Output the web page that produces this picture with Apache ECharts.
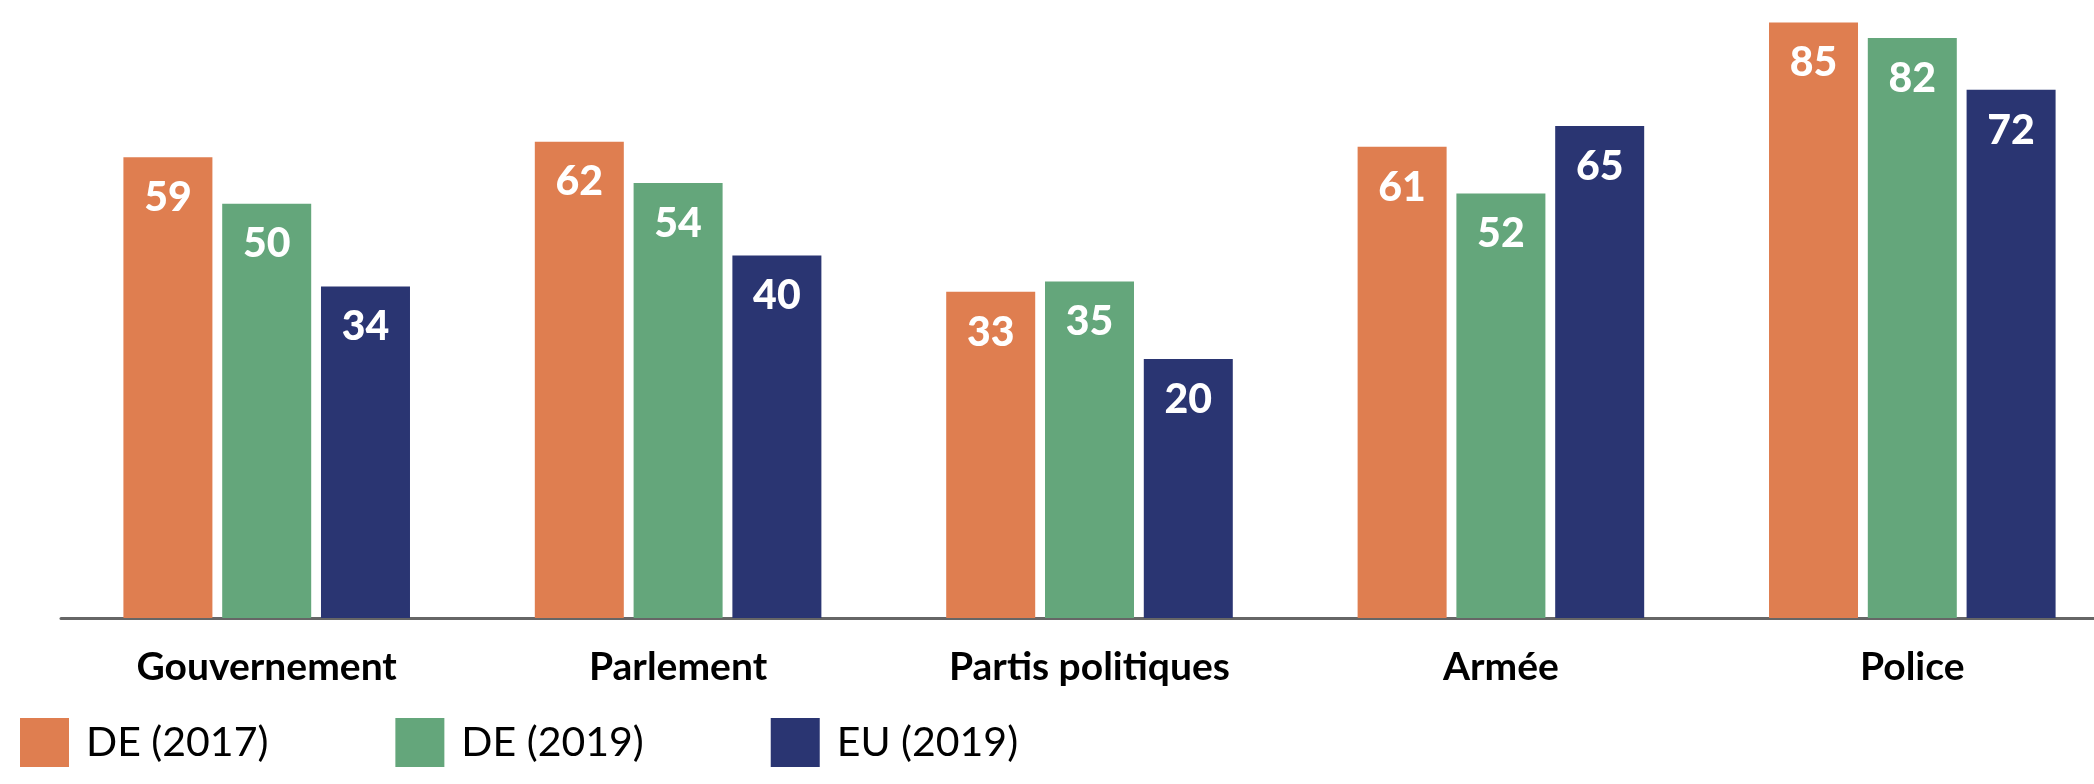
<!DOCTYPE html>
<html lang="fr">
<head>
  <meta charset="UTF-8">
  <title>Confiance dans les institutions</title>
  <script src="https://cdn.jsdelivr.net/npm/echarts@6/dist/echarts.min.js"></script>
  <style>
    * { margin: 0; padding: 0; }
    body { background: #fff; }
    #chart { width: 2094px; height: 784px; }
  </style>
</head>
<body>
  <div id="chart"></div>
  <script>
    // categories and values
    var categories = ['Gouvernement', 'Parlement', 'Partis politiques', 'Armée', 'Police'];
    var de2017 = [59, 62, 33, 61, 85];
    var de2019 = [50, 54, 35, 52, 82];
    var eu2019 = [34, 40, 20, 65, 72];
    var seriesNames = ['DE (2017)', 'DE (2019)', 'EU (2019)'];
    var colors = ['#df7e50', '#64a67b', '#2a3572'];

    var myChart = echarts.init(document.getElementById('chart'));

    function barSeries(name, data, color) {
      return {
        name: name,
        type: 'bar',
        data: data,
        barWidth: 89,
        barGap: '11%',
        itemStyle: { color: color },
        label: {
          show: true,
          position: 'insideTop',
          distance: 20,
          color: '#fff',
          fontFamily: 'Lato',
          fontWeight: 900,
          fontSize: 41,
          lineHeight: 41
        }
      };
    }

    var option = {
      animation: false,
      color: colors,
      legend: {
        left: 15,
        top: 713,
        itemWidth: 49,
        itemHeight: 49,
        itemGap: 127,
        icon: 'rect',
        data: seriesNames,
        textStyle: {
          fontFamily: 'Lato',
          fontSize: 41,
          color: '#000',
          padding: [0, 0, 0, 12]
        }
      },
      grid: {
        left: 61,
        right: -24,
        top: 7,
        bottom: 166,
        containLabel: false,
        outerBoundsMode: 'none'
      },
      xAxis: {
        type: 'category',
        data: categories,
        axisLine: { onZero: false, lineStyle: { color: '#666', width: 3 } },
        axisTick: { show: false },
        axisLabel: {
          margin: 29,
          color: '#000',
          fontFamily: 'Lato',
          fontWeight: 'bold',
          fontSize: 39,
          lineHeight: 40
        }
      },
      yAxis: {
        type: 'value',
        min: -30,
        max: 88,
        startValue: -30,
        show: false,
        splitLine: { show: false }
      },
      series: [
        barSeries(seriesNames[0], de2017, colors[0]),
        barSeries(seriesNames[1], de2019, colors[1]),
        barSeries(seriesNames[2], eu2019, colors[2])
      ]
    };

    myChart.setOption(option);
  </script>
</body>
</html>
